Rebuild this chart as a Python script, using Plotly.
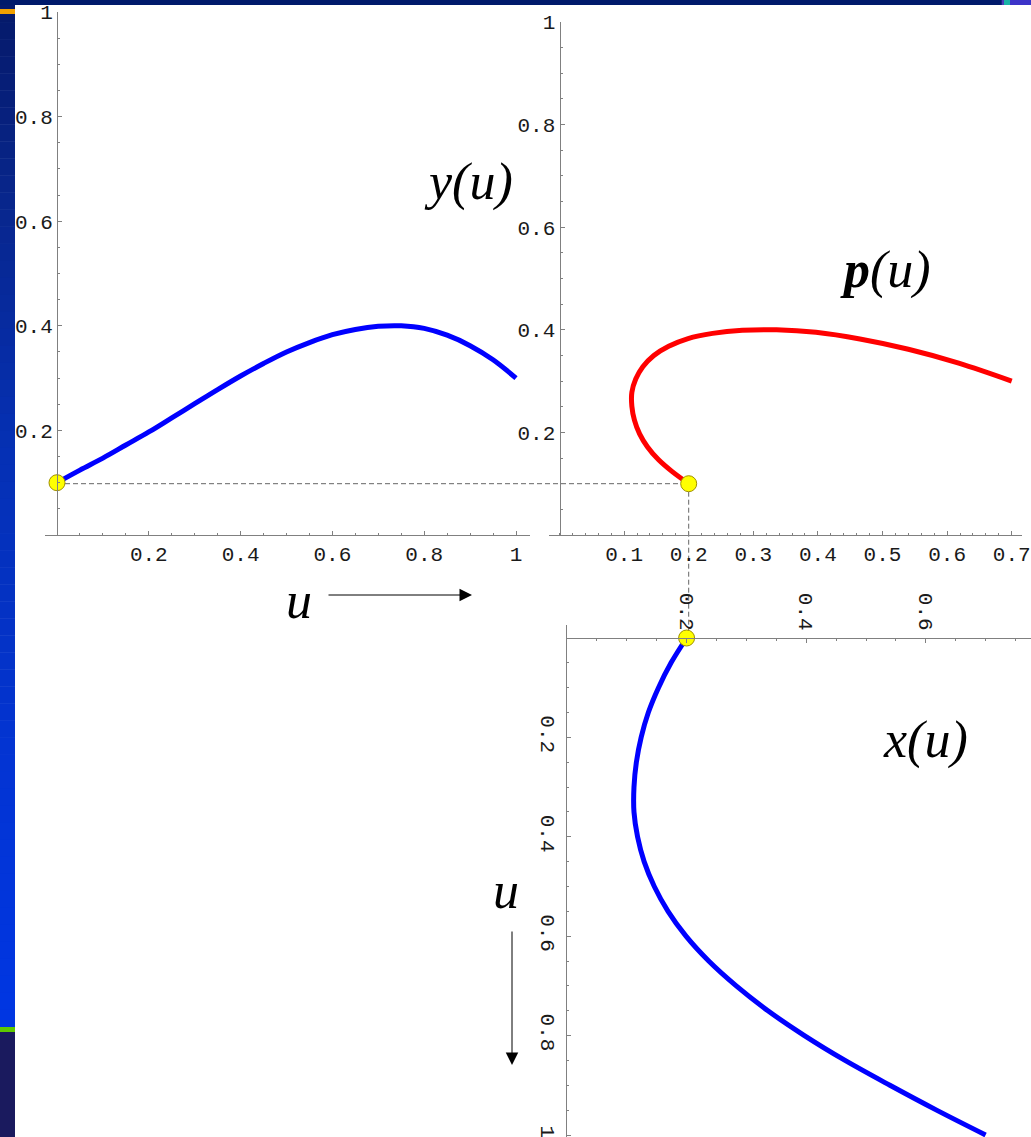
import plotly.graph_objects as go

# Parameter samples of the cubic curve p(u) = (x(u), y(u))
u_vals = [0.00, 0.05, 0.10, 0.15, 0.20, 0.25, 0.30, 0.35, 0.40, 0.45, 0.50,
          0.55, 0.60, 0.65, 0.70, 0.75, 0.80, 0.85, 0.90, 0.95, 1.00]
x_vals = [0.200, 0.174, 0.153, 0.136, 0.124, 0.116, 0.112, 0.112, 0.118, 0.129, 0.146,
          0.169, 0.199, 0.237, 0.283, 0.336, 0.397, 0.465, 0.540, 0.618, 0.700]
y_vals = [0.100, 0.124, 0.147, 0.172, 0.197, 0.224, 0.251, 0.278, 0.304, 0.328, 0.350,
          0.368, 0.383, 0.393, 0.399, 0.400, 0.395, 0.382, 0.362, 0.335, 0.300]

# Tick labels
tick_02 = [0.2, 0.4, 0.6, 0.8, 1.0]
tick_02_text = ["0.2", "0.4", "0.6", "0.8", "1"]
tick_01 = [0.1, 0.2, 0.3, 0.4, 0.5, 0.6, 0.7]
tick_01_text = ["0.1", "0.2", "0.3", "0.4", "0.5", "0.6", "0.7"]
tick_x3 = [0.2, 0.4, 0.6]
tick_x3_text = ["0.2", "0.4", "0.6"]

W, H = 1031, 1137


def fx(px):
    return px / W


def fy(px):
    return 1 - px / H


def to_paper(v, rng, dom):
    return dom[0] + (v - rng[0]) / (rng[1] - rng[0]) * (dom[1] - dom[0])


BLUE = "#0000ff"
RED = "#ff0000"
AXIS = "#808080"
TICKFONT = dict(family="Liberation Mono, Courier New, monospace", size=21, color="#1a1a1a")
LABELFONT = "Liberation Serif, Times New Roman, serif"

# axis geometry
x1_dom, x1_rng = [fx(45), fx(530)], [(45 - 57) / 459, (530 - 57) / 459]
y1_dom, y1_rng = [fy(535), fy(12)], [0, 1]
x2_dom, x2_rng = [fx(549), fx(1022)], [(549 - 559.5) / 646, (1022 - 559.5) / 646]
y2_dom, y2_rng = [fy(535), fy(22)], [0, 1]
x3_dom, x3_rng = [fx(566), 1], [(566 - 567) / 598, (1031 - 567) / 598]
y3_dom, y3_rng = [0, fy(625)], [(1137 - 638) / 497, (625 - 638) / 497]


def axis(**kw):
    base = dict(showline=True, linecolor=AXIS, linewidth=1, ticks="inside", ticklen=4,
                tickcolor=AXIS, tickwidth=1, showgrid=False, zeroline=False, automargin=False,
                ticklabeloverflow="allow", tickfont=TICKFONT, tickmode="array", fixedrange=True)
    base.update(kw)
    return base


def minor(step):
    return dict(ticks="inside", ticklen=2, tickcolor=AXIS, dtick=step, tick0=0, showgrid=False)


fig = go.Figure()

# dashed guides through the point p(0)
gx_left = to_paper(u_vals[0], x1_rng, x1_dom)
gx_right = to_paper(x_vals[0], x2_rng, x2_dom)
gy_top = to_paper(y_vals[0], y2_rng, y2_dom)
gy_bottom = to_paper(u_vals[0], y3_rng, y3_dom)
dash_line = dict(color="#666666", width=1, dash="5px,3px")
fig.add_shape(type="line", xref="paper", yref="paper", x0=gx_left, x1=gx_right,
              y0=gy_top, y1=gy_top, line=dash_line, layer="below")
fig.add_shape(type="line", xref="x2", yref="paper", x0=x_vals[0], x1=x_vals[0],
              y0=gy_top, y1=gy_bottom, line=dash_line, layer="below")

# y(u)
fig.add_trace(go.Scatter(x=u_vals, y=y_vals, mode="lines", line=dict(color=BLUE, width=5, shape="spline"),
                         xaxis="x", yaxis="y", hoverinfo="skip"))
# p(u)
fig.add_trace(go.Scatter(x=x_vals, y=y_vals, mode="lines", line=dict(color=RED, width=5, shape="spline"),
                         xaxis="x2", yaxis="y2", hoverinfo="skip"))
# x(u), with u running downwards
fig.add_trace(go.Scatter(x=x_vals, y=u_vals, mode="lines", line=dict(color=BLUE, width=5, shape="spline"),
                         xaxis="x3", yaxis="y3", hoverinfo="skip"))

dot = dict(size=16, color="#ffff00", line=dict(color="#a09000", width=1))
fig.add_trace(go.Scatter(x=[u_vals[0]], y=[y_vals[0]], mode="markers", marker=dot,
                         xaxis="x", yaxis="y", cliponaxis=False, hoverinfo="skip"))
fig.add_trace(go.Scatter(x=[x_vals[0]], y=[y_vals[0]], mode="markers", marker=dot,
                         xaxis="x2", yaxis="y2", cliponaxis=False, hoverinfo="skip"))
fig.add_trace(go.Scatter(x=[x_vals[0]], y=[u_vals[0]], mode="markers", marker=dot,
                         xaxis="x3", yaxis="y3", cliponaxis=False, hoverinfo="skip"))

fig.update_layout(
    template="none",
    width=W, height=H, margin=dict(l=0, r=0, t=0, b=0, pad=0, autoexpand=False),
    paper_bgcolor="white", plot_bgcolor="rgba(0,0,0,0)", showlegend=False,
    xaxis=axis(domain=x1_dom, range=x1_rng, anchor="y", tickvals=tick_02, ticktext=tick_02_text,
               minor=minor(0.05)),
    yaxis=axis(domain=y1_dom, range=y1_rng, anchor="free", position=fx(57),
               tickvals=tick_02, ticktext=tick_02_text, minor=minor(0.05)),
    xaxis2=axis(domain=x2_dom, range=x2_rng, anchor="y2", tickvals=tick_01, ticktext=tick_01_text,
                minor=minor(0.02)),
    yaxis2=axis(domain=y2_dom, range=y2_rng, anchor="free", position=fx(559.5),
                tickvals=tick_02, ticktext=tick_02_text, minor=minor(0.05)),
    xaxis3=axis(domain=x3_dom, range=x3_rng, anchor="free", position=fy(638), side="top",
                tickangle=90, tickvals=tick_x3, ticktext=tick_x3_text, minor=minor(0.05)),
    yaxis3=axis(domain=y3_dom, range=y3_rng, anchor="free", position=fx(566), tickangle=90,
                tickvals=tick_02, ticktext=tick_02_text, minor=minor(0.05)),
)

# curve names
big = dict(family=LABELFONT, size=52, color="black")
fig.add_annotation(text="<i>y(u)</i>", x=fx(468), y=fy(182), xref="paper", yref="paper",
                   xanchor="center", yanchor="middle", showarrow=False, font=big)
fig.add_annotation(text="<b><i>p</i></b><i>(u)</i>", x=fx(885), y=fy(270), xref="paper", yref="paper",
                   xanchor="center", yanchor="middle", showarrow=False, font=big)
fig.add_annotation(text="<i>x(u)</i>", x=fx(925), y=fy(740), xref="paper", yref="paper",
                   xanchor="center", yanchor="middle", showarrow=False, font=big)

# parameter direction arrows
fig.add_annotation(text="<i>u</i>", x=fx(299), y=fy(600), xref="paper", yref="paper",
                   xanchor="center", yanchor="middle", showarrow=False, font=big)
fig.add_annotation(text="", x=fx(472), y=fy(595), xref="paper", yref="paper",
                   showarrow=True, ax=-145, ay=0, arrowhead=2, arrowsize=2.5, arrowwidth=1,
                   arrowcolor="black")
fig.add_annotation(text="<i>u</i>", x=fx(506), y=fy(891), xref="paper", yref="paper",
                   xanchor="center", yanchor="middle", showarrow=False, font=big)
fig.add_annotation(text="", x=fx(512), y=fy(1065), xref="paper", yref="paper",
                   showarrow=True, ax=0, ay=-135, arrowhead=2, arrowsize=2.5, arrowwidth=1,
                   arrowcolor="black")


# slide frame: top bar and left strip
def rect(x0, y0, x1, y1, color):
    fig.add_shape(type="rect", xref="paper", yref="paper", x0=fx(x0), x1=fx(x1), y0=fy(y1), y1=fy(y0),
                  fillcolor=color, line=dict(width=0), layer="above")


stops = [(5, (5, 25, 105)), (200, (8, 38, 140)), (450, (5, 48, 180)),
         (750, (3, 52, 210)), (1027, (0, 54, 226))]
n = 60
for i in range(n):
    y0 = 5 + (1027 - 5) * i / n
    y1 = 5 + (1027 - 5) * (i + 1) / n
    ym = (y0 + y1) / 2
    for (a, ca), (b, cb) in zip(stops[:-1], stops[1:]):
        if a <= ym <= b:
            t = (ym - a) / (b - a)
            c = tuple(round(ca[k] + (cb[k] - ca[k]) * t) for k in range(3))
            break
    rect(0, y0, 15, y1 + 0.5, "rgb(%d,%d,%d)" % c)
rect(0, 9, 15, 14, "#f0a000")
rect(0, 1027, 15, 1032, "#5ec800")
rect(0, 1032, 15, 1137, "#1a1a5e")
rect(0, 0, 1031, 5, "#001a6b")
rect(1001.7, 0, 1004, 5, "#4a3ab8")
rect(1004, 0, 1010, 5, "#19b3a6")
rect(1010, 0, 1031, 5, "#3c33c8")

fig.write_html("out.html")
